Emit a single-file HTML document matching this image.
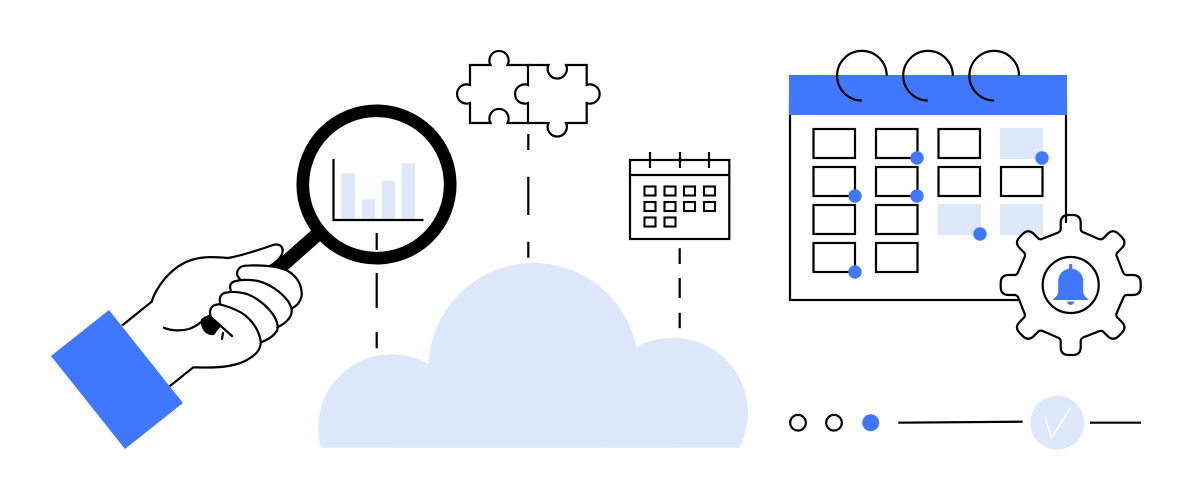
<!DOCTYPE html>
<html>
<head>
<meta charset="utf-8">
<style>
html,body{margin:0;padding:0;background:#fff;}
svg{display:block;}
</style>
</head>
<body>
<svg width="1192" height="500" viewBox="0 0 1192 500" xmlns="http://www.w3.org/2000/svg">
<defs><clipPath id="c"><rect x="300" y="250" width="470" height="197.7"/></clipPath></defs>
<rect width="1192" height="500" fill="#fff"/>

<!-- cloud -->
<g clip-path="url(#c)" fill="#dde8fb">
<circle cx="391.8" cy="427.8" r="73.6"/>
<circle cx="533.5" cy="368" r="105"/>
<circle cx="673" cy="412.7" r="75"/>
<rect x="392" y="370" width="281" height="80"/>
</g>

<!-- dashed connectors -->
<g stroke="#000" stroke-width="2.2" fill="none">
<path d="M376.7 233V250M376.7 273V308M376.7 332V348.3"/>
<path d="M528.3 134V150M528.3 176.7V215M528.3 241.7V257.7"/>
<path d="M679.7 248.3V264M679.7 278V298M679.7 312.7V328.3"/>
</g>

<!-- magnifier -->
<path d="M277 270L320 232" stroke="#000" stroke-width="14" fill="none"/>
<circle cx="376.5" cy="184.5" r="73.7" fill="#fff" stroke="#000" stroke-width="12.7"/>
<g fill="#dde8fb">
<rect x="341.7" y="173.3" width="13.3" height="46"/>
<rect x="361.7" y="199.3" width="13.3" height="20"/>
<rect x="381.7" y="180.7" width="13.3" height="38.6"/>
<rect x="401.7" y="163.3" width="13.3" height="56"/>
</g>
<path d="M333.5 159V220H423.5" fill="none" stroke="#000" stroke-width="2.2"/>
<path d="M376.7 233V250" stroke="#000" stroke-width="2.2"/>

<!-- hand -->
<path fill="#fff" d="M110 335L151.7 301.7C155 290 170 265 195 259C205 256 218 257 228 258C240 256 262 249 273 245C281 243 284 248 282 254C280 259 275 263 270 266L286.7 270L300 283.3L301.7 296.7L291.7 308.3L288.3 320L277.3 327.3L273.3 336.7L261 342.3L253.3 356.7L233.3 365L193.3 367.3L160 394Z"/>
<path d="M201 319C200 328 205 336 214 335L224 322L214 312Z" fill="#000"/>
<path fill="#fff" d="M232 336L213 319C209 316 209 309 213 305L222 305L243 313L257 328L261 343L240 362L225 345Z"/>
<g stroke="#000" stroke-width="2.2" stroke-linejoin="round" stroke-linecap="round" fill="none">
<path d="M122.7 325L151.7 301.7C155 290 170 265 195 259C205 256 218 257 228 258C240 256 262 249 273 245C281 243 284 248 282 254C280 259 275 263 270 266"/>
<path d="M240 279.3C237 276 236 273 238 270C240 266 244 265.5 250 265.5C262 265 278 266 288 271C298 277 302 286 301.7 295C301 301 297 306 291.7 308.3"/>
<path d="M230.7 290C229 285 231 282 236 281C243 279 252 280 258 281C270 284 281 292 288 301C291 306 292 310 291.7 312C291 318 285 324 277.3 327.3"/>
<path d="M220 302.7C219 297 221 293 227 292.5C234 291 241 292.5 247 294C258 298 269 308 274 316C277 321 278 325 277.5 329C276 334 270 339 261 342.3"/>
<path d="M232 336L213 319C209 316 209 309 213 306C216 304 220 304 224 305.5C232 308 242 312 247 317C254 323 260 333 260.7 342C261 348 257 354 250 358C243 363 235 365 225 366.5C215 368 203 367.5 193.3 367.3L170 386"/>
<path d="M164 327.8C172 331 182 331 189 329C197 326 202 322 205 317.5"/>
<path d="M223 333L222 339"/>
</g>
<path d="M109 310L51 356L125 449L183 403Z" fill="#3f78ff"/>

<!-- puzzle -->
<g fill="none" stroke="#000" stroke-width="2.2">
<path d="M528 65H507.5A9.6 9.6 0 1 0 490.5 65H470V85A9.6 9.6 0 1 0 470 103V123H490.5A9.6 9.6 0 1 1 507.5 123H528V103A9.6 9.6 0 1 1 528 85V65Z"/>
<path d="M528 65H548.5A9.6 9.6 0 1 0 566 65H586.7V85A9.6 9.6 0 1 1 586.7 103V123H566A9.6 9.6 0 1 1 548.5 123H528"/>
</g>

<!-- small calendar -->
<g fill="none" stroke="#000" stroke-width="2.2">
<rect x="630" y="160" width="99.3" height="79"/>
<path d="M630 175H729M650 152V168M680 152V168M709 152V168"/>
<g stroke-width="2.1">
<rect x="644.5" y="186.5" width="11" height="9"/><rect x="664.5" y="186.5" width="11" height="9"/><rect x="684" y="186.5" width="11" height="9"/><rect x="704" y="186.5" width="11" height="9"/>
<rect x="644.5" y="202" width="11" height="9"/><rect x="664.5" y="202" width="11" height="9"/><rect x="684" y="202" width="11" height="9"/><rect x="704" y="202" width="11" height="9"/>
<rect x="644.5" y="217.5" width="11" height="9"/><rect x="664.5" y="217.5" width="11" height="9"/>
</g>
</g>

<!-- big calendar -->
<rect x="790" y="100" width="276" height="200" fill="#fff" stroke="#000" stroke-width="2.2"/>
<rect x="789" y="75" width="278" height="40" fill="#3f78ff"/>
<g fill="none" stroke="#000" stroke-width="2.2">
<path d="M886.7 75.7A24.8 24.8 0 1 0 861.7 100.5"/>
<path d="M952.8 75.7A24.8 24.8 0 1 0 927.8 100.5"/>
<path d="M1019 75.7A24.8 24.8 0 1 0 994 100.5"/>
</g>
<g fill="#dde8fb">
<rect x="1000" y="128" width="43" height="31"/>
<rect x="938" y="204" width="43" height="31"/>
<rect x="1000" y="204" width="43" height="31"/>
</g>
<g fill="none" stroke="#000" stroke-width="2.2">
<rect x="813.5" y="129" width="41.5" height="29"/><rect x="876" y="129" width="41.5" height="29"/><rect x="938.5" y="129" width="41.5" height="29"/>
<rect x="813.5" y="167" width="41.5" height="29"/><rect x="876" y="167" width="41.5" height="29"/><rect x="938.5" y="167" width="41.5" height="29"/><rect x="1001" y="167" width="41.5" height="29"/>
<rect x="813.5" y="205" width="41.5" height="29"/><rect x="876" y="205" width="41.5" height="29"/>
<rect x="813.5" y="243" width="41.5" height="29"/><rect x="876" y="243" width="41.5" height="29"/>
</g>
<g fill="#3f78ff">
<circle cx="917" cy="158" r="6.7"/><circle cx="1042" cy="158" r="6.7"/>
<circle cx="855" cy="196" r="6.7"/><circle cx="917" cy="196" r="6.7"/>
<circle cx="980" cy="234" r="6.7"/><circle cx="855" cy="272" r="6.7"/>
</g>

<!-- gear -->
<g transform="translate(1070.7 285)">
<g fill="#fff">
<circle r="53"/>
<rect x="-10" y="-62" width="20" height="124"/>
<rect x="-10" y="-62" width="20" height="124" transform="rotate(45)"/>
<rect x="-10" y="-62" width="20" height="124" transform="rotate(90)"/>
<rect x="-10" y="-62" width="20" height="124" transform="rotate(135)"/>
</g>
<g fill="none" stroke="#000" stroke-width="2.2" stroke-linejoin="round">
<path d="M-10 -56V-62Q-10 -70 -2 -70H2Q10 -70 10 -62V-56Q10 -54 12 -53L28 -46Q31 -45 33 -47"/>
<path transform="rotate(45)" d="M-10 -56V-62Q-10 -70 -2 -70H2Q10 -70 10 -62V-56Q10 -54 12 -53L28 -46Q31 -45 33 -47"/>
<path transform="rotate(90)" d="M-10 -56V-62Q-10 -70 -2 -70H2Q10 -70 10 -62V-56Q10 -54 12 -53L28 -46Q31 -45 33 -47"/>
<path transform="rotate(135)" d="M-10 -56V-62Q-10 -70 -2 -70H2Q10 -70 10 -62V-56Q10 -54 12 -53L28 -46Q31 -45 33 -47"/>
<path transform="rotate(180)" d="M-10 -56V-62Q-10 -70 -2 -70H2Q10 -70 10 -62V-56Q10 -54 12 -53L28 -46Q31 -45 33 -47"/>
<path transform="rotate(225)" d="M-10 -56V-62Q-10 -70 -2 -70H2Q10 -70 10 -62V-56Q10 -54 12 -53L28 -46Q31 -45 33 -47"/>
<path transform="rotate(270)" d="M-10 -56V-62Q-10 -70 -2 -70H2Q10 -70 10 -62V-56Q10 -54 12 -53L28 -46Q31 -45 33 -47"/>
<path transform="rotate(315)" d="M-10 -56V-62Q-10 -70 -2 -70H2Q10 -70 10 -62V-56Q10 -54 12 -53L28 -46Q31 -45 33 -47"/>
</g>
<circle r="28" fill="#fff" stroke="#000" stroke-width="2.2"/>
<path fill="#3f78ff" d="M-1.6 -16.4V-20.5Q0 -22 1.6 -20.5V-16.4A12.5 12.5 0 0 1 12.5 -4V7Q13 11 17.5 14Q18 15 16.5 15H-16.5Q-18 15 -17.5 14Q-13 11 -12.5 7V-4A12.5 12.5 0 0 1 -1.6 -16.4Z"/>
<path fill="#3f78ff" d="M-3.5 16.5H3.5A3.5 3.5 0 0 1 -3.5 16.5Z"/>
</g>

<!-- bottom row -->
<circle cx="798" cy="422.7" r="7.8" fill="none" stroke="#000" stroke-width="2.2"/>
<circle cx="834" cy="422.7" r="7.8" fill="none" stroke="#000" stroke-width="2.2"/>
<circle cx="870.7" cy="422.7" r="8.5" fill="#3f78ff"/>
<path d="M898.3 422.7L1022.7 421.7M1090 422.7H1141" stroke="#000" stroke-width="2.2" fill="none"/>
<circle cx="1057.3" cy="422.7" r="27" fill="#dde8fb"/>
<path d="M1045 416.7L1051.7 437.7L1070.7 407.3" fill="none" stroke="#fff" stroke-width="1.5"/>
</svg>
</body>
</html>
